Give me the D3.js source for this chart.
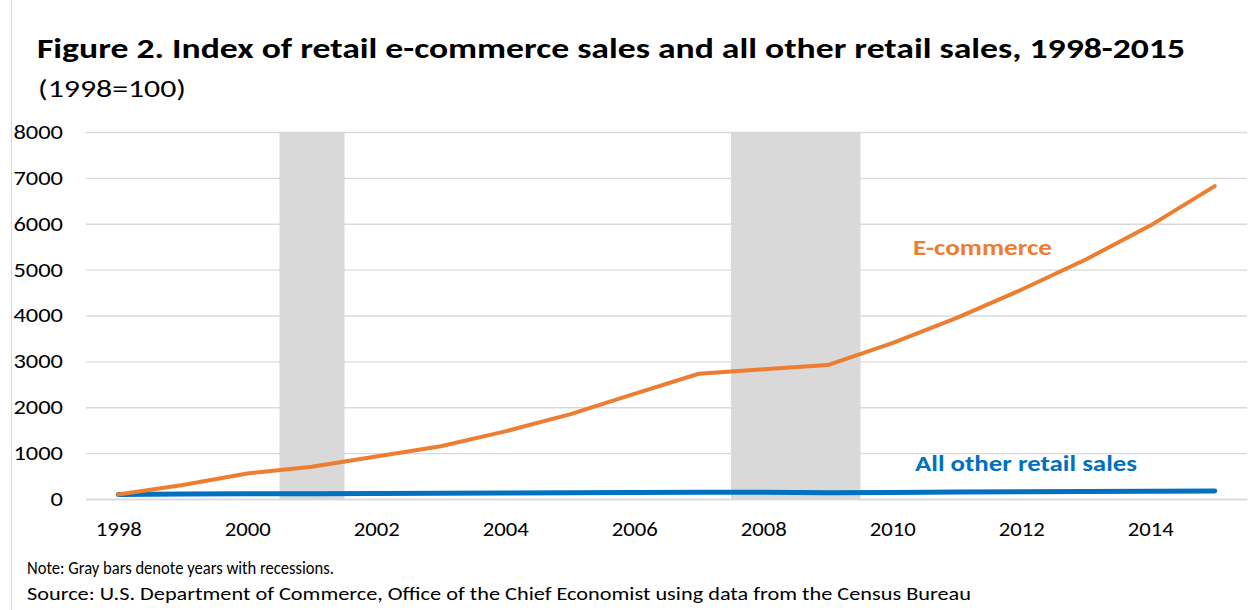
<!DOCTYPE html>
<html><head><meta charset="utf-8">
<script src="https://cdn.jsdelivr.net/npm/d3@7"></script>
<style>
html,body{margin:0;padding:0;background:#fff;}
svg text{font-family:Carlito, Calibri, Lato, "Open Sans", sans-serif;}
</style></head>
<body><svg id="c" width="1248" height="610"></svg>
<script>
const years = [1998,1999,2000,2001,2002,2003,2004,2005,2006,2007,2008,2009,2010,2011,2012,2013,2014,2015];
const ecommerce = [100,305,555,705,925,1150,1475,1845,2290,2730,2830,2920,3400,3950,4560,5220,5960,6820];
const otherRetail = [100,107,113,116,118,123,130,138,144,148,146,136,143,152,159,165,171,175];
const recessionYears = [2001,2008,2009];
const yTicks = [0,1000,2000,3000,4000,5000,6000,7000,8000];
const xTickYears = [1998,2000,2002,2004,2006,2008,2010,2012,2014];

const svg = d3.select("#c");
const x = d3.scaleLinear().domain([1997.5, 2015.5]).range([86, 1247]);
const y = d3.scaleLinear().domain([0, 8000]).range([499, 132]);

// frame
svg.append("line").attr("x1",11.5).attr("x2",11.5).attr("y1",0).attr("y2",610).attr("stroke","#d9d9d9").attr("stroke-width",1);

// title
svg.append("text").attr("x",37).attr("y",58).attr("font-size",28).attr("font-weight","bold").attr("fill","#000")
  .attr("textLength",1148).attr("lengthAdjust","spacingAndGlyphs")
  .text("Figure 2. Index of retail e-commerce sales and all other retail sales, 1998-2015");
svg.append("text").attr("x",38).attr("y",97).attr("font-size",24).attr("fill","#000")
  .attr("textLength",148).attr("lengthAdjust","spacingAndGlyphs")
  .text("(1998=100)");

// gridlines + y axis
const yAxis = d3.axisLeft(y).tickValues(yTicks).tickSize(-(1247-86)).tickPadding(23).tickFormat(d3.format("d"));
const gy = svg.append("g").attr("transform","translate(86,0)").call(yAxis);
gy.select(".domain").remove();
gy.selectAll(".tick line").attr("stroke","#d9d9d9").attr("stroke-width",1.3);
gy.selectAll(".tick text").attr("font-size",20).attr("fill","#000").attr("font-family","Carlito, Calibri, Lato, sans-serif")
  .attr("textLength", d => String(d).length * 12.4).attr("lengthAdjust","spacingAndGlyphs");

// recession bars
svg.append("g").selectAll("rect").data(recessionYears).join("rect")
  .attr("x", d => x(d-0.5)).attr("width", d => x(d+0.5)-x(d-0.5)+0.5)
  .attr("y", y(8000)).attr("height", y(0)-y(8000))
  .attr("fill","#d9d9d9");

// x axis
const xAxis = d3.axisBottom(x).tickValues(xTickYears).tickSize(0).tickPadding(23).tickFormat(d3.format("d"));
const gx = svg.append("g").attr("transform",`translate(0,${y(0)})`).call(xAxis);
gx.select(".domain").attr("stroke","#d9d9d9").attr("stroke-width",1.3);
gx.selectAll(".tick text").attr("font-size",20).attr("fill","#000").attr("font-family","Carlito, Calibri, Lato, sans-serif")
  .attr("textLength", 46).attr("lengthAdjust","spacingAndGlyphs");

// lines
const line = d3.line().x((d,i)=>x(years[i])).y(d=>y(d));
svg.append("path").datum(otherRetail).attr("d",line).attr("fill","none").attr("stroke","#0070c0").attr("stroke-width",5).attr("stroke-linecap","round").attr("stroke-linejoin","round");
svg.append("path").datum(ecommerce).attr("d",line).attr("fill","none").attr("stroke","#ed7d31").attr("stroke-width",4).attr("stroke-linecap","round").attr("stroke-linejoin","round");

// series labels
svg.append("text").attr("x",913).attr("y",255).attr("font-size",22).attr("font-weight","bold").attr("fill","#ed7d31")
  .attr("textLength",139).attr("lengthAdjust","spacingAndGlyphs").text("E-commerce");
svg.append("text").attr("x",915).attr("y",471).attr("font-size",22).attr("font-weight","bold").attr("fill","#0070c0")
  .attr("textLength",222).attr("lengthAdjust","spacingAndGlyphs").text("All other retail sales");

// notes
svg.append("text").attr("x",27).attr("y",574).attr("font-size",18).attr("fill","#000")
  .attr("textLength",307).attr("lengthAdjust","spacingAndGlyphs").text("Note:  Gray bars denote years with recessions.");
svg.append("text").attr("x",27).attr("y",600).attr("font-size",18).attr("fill","#000")
  .attr("textLength",944).attr("lengthAdjust","spacingAndGlyphs").text("Source: U.S. Department  of Commerce,  Office of the Chief Economist using data from the Census Bureau");
</script></body></html>
